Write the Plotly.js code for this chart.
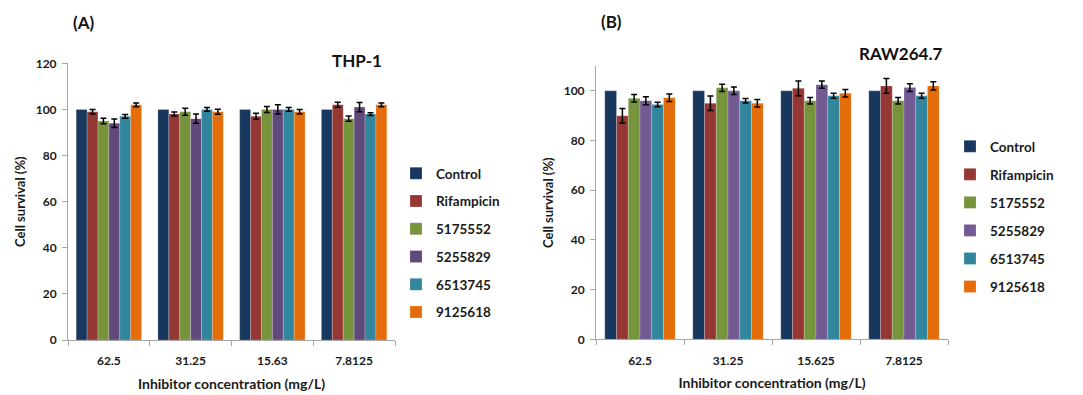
<!DOCTYPE html>
<html>
<head>
<meta charset="utf-8">
<script src="https://cdn.plot.ly/plotly-3.0.1.min.js"></script>
<style>html,body{margin:0;padding:0;background:#fff}#chart{width:1083px;height:395px}</style>
</head>
<body>
<div id="chart"></div>
<script>
// ---- data ----
const seriesNames = ["Control", "Rifampicin", "5175552", "5255829", "6513745", "9125618"];

const catsA = ["62.5", "31.25", "15.63", "7.8125"];
const thpControl    = [100, 100, 100, 100];
const thpRifampicin = [99, 98, 97, 102];
const thp5175552    = [95, 99, 100, 96];
const thp5255829    = [94, 96, 100, 101];
const thp6513745    = [97, 100, 100, 98];
const thp9125618    = [102, 99, 99, 102];
const thpControlErr    = [0, 0, 0, 0];
const thpRifampicinErr = [1.0, 0.9, 1.3, 1.1];
const thp5175552Err    = [1.2, 1.5, 1.3, 1.1];
const thp5255829Err    = [1.8, 2.0, 2.0, 2.0];
const thp6513745Err    = [0.8, 0.8, 0.8, 0.6];
const thp9125618Err    = [0.8, 1.1, 1.0, 0.8];

const catsB = ["62.5", "31.25", "15.625", "7.8125"];
const rawControl    = [100, 100, 100, 100];
const rawRifampicin = [90, 95, 101, 102];
const raw5175552    = [97, 101.2, 96, 96];
const raw5255829    = [96, 100, 102.5, 101.3];
const raw6513745    = [94.5, 96, 98, 98];
const raw9125618    = [97.2, 95, 99, 102];
const rawControlErr    = [0, 0, 0, 0];
const rawRifampicinErr = [2.9, 2.9, 3.0, 3.0];
const raw5175552Err    = [1.5, 1.5, 1.3, 1.3];
const raw5255829Err    = [1.6, 1.5, 1.5, 1.6];
const raw6513745Err    = [0.9, 0.9, 1.0, 1.0];
const raw9125618Err    = [1.5, 1.5, 1.5, 1.7];

// ---- styles ----
const colorsA = ["#17375E", "#953735", "#77933C", "#604A7B", "#31859C", "#E46C0A"];
const colorsB = ["#17375E", "#953735", "#77933C", "#725A92", "#31859C", "#E46C0A"];
const FONT = "Lato, 'Open Sans', 'Liberation Sans', sans-serif";
const TXT = "#1a1a1a";

const valsA = [thpControl, thpRifampicin, thp5175552, thp5255829, thp6513745, thp9125618];
const errsA = [thpControlErr, thpRifampicinErr, thp5175552Err, thp5255829Err, thp6513745Err, thp9125618Err];
const valsB = [rawControl, rawRifampicin, raw5175552, raw5255829, raw6513745, raw9125618];
const errsB = [rawControlErr, rawRifampicinErr, raw5175552Err, raw5255829Err, raw6513745Err, raw9125618Err];

const traces = [];
seriesNames.forEach((n, i) => {
  traces.push({
    type: "bar", name: n, x: catsA, y: valsA[i], xaxis: "x", yaxis: "y",
    legend: "legend", legendgroup: "a" + i,
    marker: {color: colorsA[i], line: {color: "rgba(255,255,255,0.35)", width: 0.6}},
    error_y: {type: "data", array: errsA[i], visible: i > 0, color: "#000", thickness: 1.5, width: 3}
  });
});
seriesNames.forEach((n, i) => {
  traces.push({
    type: "bar", name: n, x: catsB, y: valsB[i], xaxis: "x2", yaxis: "y2",
    legend: "legend2", legendgroup: "b" + i,
    marker: {color: colorsB[i], line: {color: "rgba(255,255,255,0.35)", width: 0.6}},
    error_y: {type: "data", array: errsB[i], visible: i > 0, color: "#000", thickness: 1.5, width: 3}
  });
});

const W = 1083, H = 395;
const bold = (size) => ({family: FONT, size: size, color: TXT, weight: "bold"});
const axCommonX = {
  type: "category", showline: true, linecolor: "#a6a6a6", linewidth: 1,
  ticks: "outside", tickson: "boundaries", ticklen: 5, tickcolor: "#a6a6a6",
  showgrid: false, zeroline: false, ticklabelstandoff: 10,
  tickfont: bold(12),
  title: {text: "Inhibitor concentration (mg/L)", font: bold(14), standoff: 11}
};
const axCommonY = {
  showline: true, linecolor: "#a6a6a6", linewidth: 1,
  ticks: "outside", ticklen: 5, tickcolor: "#a6a6a6", showgrid: false, zeroline: false,
  ticklabelstandoff: 3,
  tickfont: bold(12),
  title: {text: "Cell survival (%)", font: bold(13), standoff: 7}
};

const layout = {
  width: W, height: H, margin: {l: 0, r: 0, t: 0, b: 0},
  paper_bgcolor: "#fff", plot_bgcolor: "#fff",
  font: {family: FONT, color: TXT},
  bargap: 0.2, bargroupgap: 0, barmode: "group", showlegend: true,
  xaxis: Object.assign({}, axCommonX, {domain: [68 / W, 395 / W], anchor: "y"}),
  yaxis: Object.assign({}, axCommonY, {domain: [(H - 340) / H, (H - 63.3) / H], range: [0, 120], dtick: 20, anchor: "x"}),
  xaxis2: Object.assign({}, axCommonX, {domain: [596 / W, 948 / W], anchor: "y2"}),
  yaxis2: Object.assign({}, axCommonY, {domain: [(H - 339.3) / H, (H - 66) / H], range: [0, 110], tickvals: [0, 20, 40, 60, 80, 100], anchor: "x2"}),
  legend: {x: 396 / W, y: 1 - 158 / H, xanchor: "left", yanchor: "top", traceorder: "grouped", tracegroupgap: 7.2,
           font: bold(13.5), bgcolor: "rgba(0,0,0,0)", itemwidth: 30},
  legend2: {x: 950 / W, y: 1 - 131 / H, xanchor: "left", yanchor: "top", traceorder: "grouped", tracegroupgap: 7.5,
           font: bold(13.5), bgcolor: "rgba(0,0,0,0)", itemwidth: 30},
  annotations: [
    {text: "<b>(A)</b>", xref: "paper", yref: "paper", x: 71 / W, y: 1 - 23 / H, xanchor: "left", yanchor: "middle", showarrow: false, font: {family: FONT, size: 17, color: "#111"}},
    {text: "<b>THP-1</b>", xref: "paper", yref: "paper", x: 357 / W, y: 1 - 61 / H, xanchor: "center", yanchor: "middle", showarrow: false, font: {family: FONT, size: 17, color: "#111"}},
    {text: "<b>(B)</b>", xref: "paper", yref: "paper", x: 599 / W, y: 1 - 22 / H, xanchor: "left", yanchor: "middle", showarrow: false, font: {family: FONT, size: 17, color: "#111"}},
    {text: "<b>RAW264.7</b>", xref: "paper", yref: "paper", x: 900 / W, y: 1 - 53 / H, xanchor: "center", yanchor: "middle", showarrow: false, font: {family: FONT, size: 17, color: "#111"}}
  ]
};

Plotly.newPlot("chart", traces, layout, {displayModeBar: false, staticPlot: true});
</script>
</body>
</html>
